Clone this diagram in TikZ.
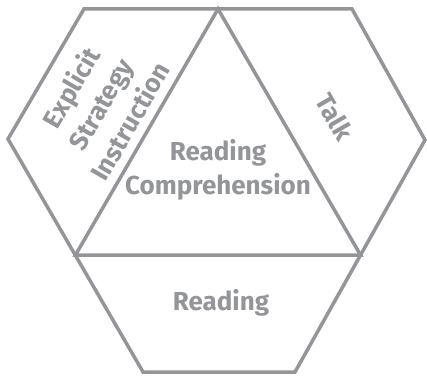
\documentclass[tikz,border=0pt]{standalone}
\usepackage{fontspec}
\setmainfont{Fira Sans}
\definecolor{hexgray}{RGB}{147,149,152}
\begin{document}
\begin{tikzpicture}[x=1pt,y=-1pt,
  edge/.style={draw=hexgray,line width=3.5pt,line join=miter},
  lbl/.style={text=hexgray,font=\fontsize{26}{34}\selectfont\bfseries,align=center,inner sep=0pt}]
\useasboundingbox (0,0) rectangle (427,377);
\coordinate (TL) at (84,9);
\coordinate (A) at (218,9);
\coordinate (TR) at (352,9);
\coordinate (L) at (8,139);
\coordinate (R) at (425,140);
\coordinate (B) at (75.5,255);
\coordinate (C) at (360.5,255);
\coordinate (BL) at (143,372);
\coordinate (BR) at (295,372);
\draw[edge] (TL) -- (TR) -- (R) -- (BR) -- (BL) -- (L) -- cycle;
\draw[edge] (A) -- (B) -- (C) -- cycle;
\node[lbl,rotate=60] (esi) at (100,104) {Explicit\\Strategy\\Instruction};
\node[lbl,rotate=-60] (talk) at (335,117) {Talk};
\node[lbl] (rc) at (218,170) {Reading\\Comprehension};
\node[lbl] (rd) at (221,303) {Reading};
\end{tikzpicture}
\end{document}
